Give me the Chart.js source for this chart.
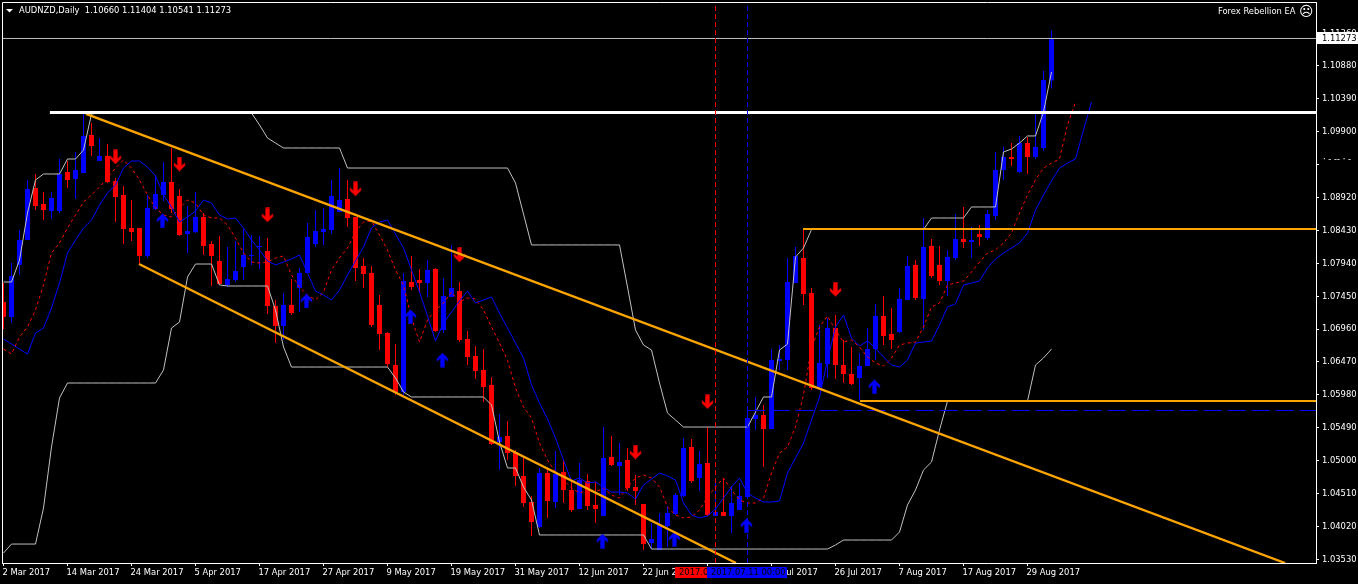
<!DOCTYPE html>
<html>
<head>
<meta charset="utf-8">
<script src="https://cdn.jsdelivr.net/npm/chart.js@4/dist/chart.umd.min.js"></script>
<style>
html, body { margin: 0; padding: 0; background: #000; overflow: hidden; }
canvas { display: block; }
</style>
</head>
<body>
<canvas id="myChart" width="1358" height="584"></canvas>
<script>
// AUDNZD daily, one entry per bar
var openPrices = [
1.07363,1.07140,1.07914,1.08286,1.09060,1.08821,1.08717,1.08717,1.09298,1.09194,
1.09283,1.09849,1.09461,1.09536,1.09164,1.08956,1.08464,1.08464,1.08048,1.08747,
1.08956,1.09149,1.08941,1.08374,1.08404,1.08628,1.08226,1.07973,1.07616,1.07690,
1.07884,1.08048,1.08182,1.08122,1.07304,1.07006,1.07319,1.07571,1.07794,1.08226,
1.08404,1.08434,1.08702,1.08896,1.08628,1.07899,1.07794,1.07319,1.06901,1.06425,
1.06023,1.07660,1.07690,1.07645,1.07854,1.06946,1.07437,1.07526,1.06812,1.06559,
1.06351,1.06128,1.05279,1.05368,1.05130,1.04773,1.04386,1.04014,1.04817,1.04386,
1.04832,1.04564,1.04282,1.04698,1.04342,1.04178,1.05056,1.04922,1.05011,1.04609,
1.04356,1.03775,1.03671,1.04029,1.04207,1.04475,1.05205,1.04743,1.04966,1.04178,
1.04237,1.04178,1.04267,1.04460,1.05621,1.05681,1.05472,1.06484,1.06499,1.07645,
1.08018,1.07496,1.06098,1.06439,1.06976,1.06425,1.06291,1.06232,1.06410,1.06663,
1.07155,1.06887,1.06916,1.07393,1.07914,1.07408,1.08197,1.07914,1.07675,1.08018,
1.08301,1.08256,1.08374,1.08315,1.08643,1.09328,1.09521,1.09298,1.09729,1.09521,
1.09655,1.10660];
var highPrices = [
1.07645,1.07943,1.08434,1.09179,1.09268,1.09000,1.09000,1.09491,1.09461,1.09595,
1.10176,1.10027,1.09804,1.09714,1.09209,1.09090,1.08881,1.08464,1.08956,1.09254,
1.09446,1.09655,1.09045,1.08792,1.09000,1.08687,1.08271,1.08345,1.08182,1.08271,
1.08449,1.08360,1.08345,1.08315,1.07393,1.07496,1.07705,1.07869,1.08538,1.08732,
1.08762,1.09179,1.09357,1.09179,1.08628,1.08018,1.07899,1.07467,1.06916,1.06737,
1.07794,1.08048,1.07854,1.07988,1.07869,1.07720,1.08212,1.07660,1.06931,1.06708,
1.06663,1.06247,1.05695,1.05591,1.05160,1.05041,1.04475,1.04892,1.04892,1.05145,
1.05011,1.04713,1.04966,1.04802,1.04683,1.05502,1.05368,1.05264,1.05190,1.04788,
1.04356,1.04073,1.04222,1.04327,1.04520,1.05338,1.05324,1.05145,1.05502,1.04713,
1.04743,1.04624,1.04669,1.05755,1.05949,1.05830,1.06663,1.06722,1.08018,1.08182,
1.08434,1.07571,1.07021,1.07125,1.07170,1.06797,1.06693,1.06604,1.06976,1.07334,
1.07452,1.07274,1.07571,1.08048,1.07988,1.08613,1.08301,1.08197,1.08137,1.08672,
1.08777,1.08479,1.08509,1.08732,1.09595,1.09670,1.09729,1.09834,1.09819,1.10161,
1.10801,1.11404];
var lowPrices = [
1.06961,1.07050,1.07765,1.08286,1.08732,1.08583,1.08598,1.08687,1.09060,1.08896,
1.09283,1.09536,1.09461,1.09134,1.08553,1.08226,1.08271,1.07928,1.08018,1.08732,
1.08866,1.08687,1.08345,1.08092,1.08389,1.08063,1.07601,1.07630,1.07586,1.07660,
1.07690,1.07914,1.07854,1.07184,1.06752,1.06797,1.07170,1.07214,1.07794,1.08182,
1.08212,1.08374,1.08702,1.08479,1.07675,1.07571,1.06991,1.06648,1.06395,1.05979,
1.05949,1.07541,1.07496,1.07437,1.06916,1.06901,1.07437,1.06767,1.06425,1.06217,
1.05874,1.05235,1.04862,1.05011,1.04624,1.04312,1.03880,1.03999,1.04148,1.04297,
1.04371,1.04237,1.04282,1.04267,1.04073,1.04178,1.04922,1.04490,1.04549,1.04342,
1.03671,1.03686,1.03671,1.03716,1.04192,1.04460,1.04669,1.04549,1.04178,1.04178,
1.04178,1.03924,1.04267,1.04460,1.05457,1.04907,1.05472,1.06351,1.06351,1.07645,
1.07319,1.06053,1.06083,1.06232,1.06217,1.06157,1.06128,1.05904,1.06410,1.06499,
1.06722,1.06663,1.06901,1.07393,1.07393,1.06946,1.07720,1.07616,1.07452,1.07988,
1.08167,1.08018,1.08197,1.08286,1.08583,1.09179,1.09387,1.09283,1.09268,1.09491,
1.09610,1.10541];
var closePrices = [
1.07140,1.07750,1.08286,1.09045,1.08792,1.08732,1.08911,1.09268,1.09179,1.09328,
1.09834,1.09685,1.09536,1.09149,1.08926,1.08449,1.08404,1.08048,1.08762,1.08970,
1.09149,1.08747,1.08360,1.08419,1.08628,1.08197,1.08048,1.07630,1.07705,1.07824,
1.08063,1.08063,1.08197,1.07304,1.07006,1.07319,1.07199,1.07794,1.08330,1.08419,
1.08449,1.08941,1.08881,1.08613,1.07869,1.07779,1.07021,1.06887,1.06439,1.06023,
1.07675,1.07586,1.07645,1.07839,1.06931,1.07452,1.07571,1.06797,1.06544,1.06336,
1.06098,1.05249,1.05353,1.05115,1.04773,1.04371,1.04088,1.04817,1.04401,1.04802,
1.04564,1.04267,1.04713,1.04327,1.04282,1.05041,1.04937,1.04981,1.04594,1.04549,
1.03760,1.03835,1.04043,1.04222,1.04490,1.05190,1.04698,1.04951,1.04192,1.04237,
1.04178,1.04371,1.04475,1.05636,1.05681,1.05472,1.06499,1.06514,1.07660,1.08048,
1.07481,1.06083,1.06454,1.06976,1.06425,1.06291,1.06143,1.06410,1.06663,1.07155,
1.06857,1.06797,1.07408,1.07899,1.07423,1.08182,1.07750,1.07675,1.08033,1.08301,
1.08256,1.08286,1.08330,1.08672,1.09328,1.09521,1.09491,1.09729,1.09521,1.09670,
1.10667,1.11273];

// channel indicator (silver)
var channelUpper = [
1.07660,1.07660,1.07988,1.08687,1.09179,1.09268,1.09268,1.09268,1.09491,1.09491,
1.09625,1.10161,1.10176,1.10176,1.10176,1.10176,1.10176,1.10176,1.10176,1.10176,
1.10176,1.10176,1.10176,1.10176,1.10176,1.10176,1.10176,1.10176,1.10176,1.10176,
1.10176,1.10176,1.09998,1.09804,1.09729,1.09655,1.09655,1.09655,1.09655,1.09655,
1.09655,1.09655,1.09655,1.09357,1.09357,1.09357,1.09357,1.09357,1.09357,1.09357,
1.09357,1.09357,1.09357,1.09357,1.09357,1.09357,1.09357,1.09357,1.09357,1.09357,
1.09357,1.09357,1.09357,1.09357,1.09134,1.08672,1.08212,1.08212,1.08212,1.08212,
1.08212,1.08212,1.08212,1.08212,1.08212,1.08212,1.08212,1.08212,1.07586,1.06946,
1.06722,1.06648,1.06157,1.05710,1.05606,1.05502,1.05502,1.05502,1.05502,1.05502,
1.05502,1.05502,1.05502,1.05502,1.05725,1.05949,1.05949,1.06648,1.06737,1.08033,
1.08167,1.08442,1.08442,1.08442,1.08442,1.08442,1.08442,1.08442,1.08442,1.08442,
1.08442,1.08442,1.08442,1.08442,1.08442,1.08442,1.08613,1.08613,1.08613,1.08613,
1.08613,1.08777,1.08777,1.08777,1.08777,1.09595,1.09640,1.09729,1.09834,1.09834,
1.10191,1.10786];
var channelLower = [
1.03627,1.03760,1.03760,1.03760,1.03760,1.04297,1.05205,1.05934,1.06157,1.06157,
1.06157,1.06157,1.06157,1.06157,1.06157,1.06157,1.06157,1.06157,1.06157,1.06157,
1.06351,1.06976,1.07065,1.07735,1.07928,1.07928,1.07928,1.07616,1.07601,1.07601,
1.07601,1.07601,1.07601,1.07601,1.07244,1.06693,1.06395,1.06395,1.06395,1.06395,
1.06395,1.06395,1.06395,1.06395,1.06395,1.06395,1.06395,1.06395,1.06395,1.06232,
1.06023,1.05949,1.05949,1.05949,1.05949,1.05949,1.05949,1.05949,1.05949,1.05949,
1.05949,1.05830,1.05279,1.04892,1.04892,1.04609,1.04416,1.03895,1.03895,1.03895,
1.03895,1.03895,1.03895,1.03895,1.03895,1.03895,1.03895,1.03895,1.03895,1.03895,
1.03895,1.03686,1.03686,1.03686,1.03686,1.03686,1.03686,1.03686,1.03686,1.03686,
1.03686,1.03686,1.03686,1.03686,1.03686,1.03686,1.03686,1.03686,1.03686,1.03686,
1.03686,1.03686,1.03686,1.03686,1.03746,1.03820,1.03820,1.03820,1.03820,1.03820,
1.03820,1.03820,1.03939,1.04342,1.04564,1.04862,1.04981,1.05457,1.05889,1.05889,
1.05889,1.05889,1.05889,1.05889,1.05889,1.05889,1.05889,1.05889,1.05889,1.06425,
1.06530,1.06663];

// slow average, runs 5 bars past the last candle
var blueAverage = [
1.06812,1.06737,1.06663,1.06588,1.06901,1.06976,1.07274,1.07645,1.08092,1.08286,
1.08464,1.08583,1.08806,1.08985,1.09105,1.09357,1.09461,1.09461,1.09372,1.09239,
1.08956,1.08777,1.08553,1.08628,1.08717,1.08881,1.08836,1.08658,1.08598,1.08613,
1.08464,1.08286,1.08137,1.07973,1.07914,1.07958,1.08003,1.08063,1.07794,1.07526,
1.07467,1.07393,1.07541,1.07765,1.07973,1.08182,1.08464,1.08553,1.08583,1.08374,
1.08167,1.07839,1.07511,1.07155,1.06782,1.07050,1.07214,1.07378,1.07526,1.07348,
1.07393,1.07437,1.07199,1.06976,1.06752,1.06529,1.06128,1.05860,1.05621,1.05338,
1.05011,1.04698,1.04743,1.04669,1.04683,1.04609,1.04534,1.04534,1.04520,1.04430,
1.04639,1.04728,1.04817,1.04773,1.04713,1.04371,1.04192,1.04148,1.04178,1.04282,
1.04445,1.04609,1.04743,1.04520,1.04445,1.04386,1.04386,1.04401,1.04817,1.05041,
1.05264,1.05606,1.05949,1.06499,1.06991,1.07170,1.06827,1.06708,1.06782,1.06678,
1.06544,1.06425,1.06395,1.06499,1.06752,1.06767,1.06782,1.07021,1.07289,1.07333,
1.07616,1.07645,1.07675,1.07869,1.08003,1.08092,1.08167,1.08241,1.08389,1.08732,
1.08956,1.09164,1.09357,1.09431,1.09491,1.09923,1.10340];
// fast average, runs 3 bars past the last candle
var redAverage = [
1.06663,1.06588,1.06842,1.06991,1.07244,1.07616,1.08092,1.08241,1.08464,1.08658,
1.08851,1.08956,1.09075,1.09209,1.09357,1.09476,1.09357,1.09179,1.08956,1.08762,
1.08658,1.08628,1.08762,1.08881,1.08836,1.08658,1.08613,1.08613,1.08509,1.08315,
1.08092,1.07958,1.07943,1.07958,1.08018,1.08048,1.07765,1.07586,1.07467,1.07393,
1.07511,1.07839,1.08018,1.08167,1.08404,1.08553,1.08568,1.08360,1.08137,1.07839,
1.07616,1.07125,1.06767,1.07095,1.07244,1.07348,1.07511,1.07363,1.07423,1.07408,
1.07244,1.06991,1.06752,1.06499,1.06083,1.05800,1.05636,1.05264,1.05011,1.04832,
1.04713,1.04594,1.04520,1.04564,1.04534,1.04594,1.04490,1.04445,1.04609,1.04743,
1.04788,1.04743,1.04609,1.04312,1.04192,1.04148,1.04163,1.04267,1.04460,1.04609,
1.04743,1.04564,1.04416,1.04371,1.04371,1.04445,1.04817,1.05115,1.05205,1.05502,
1.05979,1.06678,1.06991,1.07155,1.06946,1.06767,1.06797,1.06693,1.06544,1.06454,
1.06410,1.06529,1.06722,1.06752,1.06767,1.06991,1.07289,1.07348,1.07616,1.07645,
1.07675,1.07809,1.07958,1.08092,1.08137,1.08241,1.08389,1.08687,1.08956,1.09179,
1.09357,1.09431,1.09491,1.09998,1.10340];

// signal arrows: bar number and price
var sellBars = [14, 22, 33, 44, 57, 79, 88, 104];
var sellPrices = [1.09521, 1.09416, 1.08658, 1.09045, 1.08063, 1.05130, 1.05879, 1.07551];
var buyBars = [20, 38, 51, 55, 75, 84, 93, 109];
var buyPrices = [1.08573, 1.07378, 1.07144, 1.06499, 1.03805, 1.03835, 1.04033, 1.06102];

// drawn objects: bar number and price of the two ends
var channelTopBars = [10.3, 160.2];
var channelTopPrices = [1.10161, 1.03478];
var channelBottomBars = [16.94, 91.56];
var channelBottomPrices = [1.07928, 1.03478];
var whiteLevelBar = 5.8;
var whiteLevel = 1.10183;
var orangeHighBar = 99.94;
var orangeHigh = 1.08449;
var orangeLowBar = 107.06;
var orangeLow = 1.05889;
var dashedLevelBar = 93;
var dashedLevel = 1.05748;
var bidLevel = 1.11285;
var redMarkerBar = 89;
var blueMarkerBar = 93;

var dateBars = [0, 8, 16, 24, 32, 40, 48, 56, 64, 72, 80, 88, 96, 104, 112, 120, 128];
var dateLabels = ["2 Mar 2017", "14 Mar 2017", "24 Mar 2017", "5 Apr 2017", "17 Apr 2017", "27 Apr 2017",
  "9 May 2017", "19 May 2017", "31 May 2017", "12 Jun 2017", "22 Jun 2017", "4 Jul 2017", "14 Jul 2017",
  "26 Jul 2017", "7 Aug 2017", "17 Aug 2017", "29 Aug 2017"];
var priceTicks = [1.0353, 1.0402, 1.0451, 1.05, 1.0549, 1.0598, 1.0647, 1.0696, 1.0745, 1.0794, 1.0843, 1.0892,
  1.0941, 1.099, 1.1039, 1.1088, 1.1136];

var xMin = -0.1875, xMax = 164.0625;
var yMin = 1.03478, yMax = 1.11828;
var fontName = "'DejaVu Sans Condensed', 'DejaVu Sans', sans-serif";
var fontSize = 9.3;
var upColor = "#0000ff", downColor = "#ff0000", orange = "#ffa500", silver = "#c0c0c0";

function pairs(xs, ys) {
  return ys.map(function (y, i) { return { x: xs ? xs[i] : i, y: y }; });
}
function level(bar, price) {
  return [{ x: bar, y: price }, { x: xMax, y: price }];
}
function lineSet(data, color, width, order, dash) {
  return {
    type: "line", data: data, borderColor: color, borderWidth: width, borderDash: dash || [],
    pointRadius: 0, tension: 0, fill: false, order: order
  };
}
function barColor(ctx) {
  return closePrices[ctx.dataIndex] < openPrices[ctx.dataIndex] ? downColor : upColor;
}

// wingdings style arrows, centre is a bit left of the bar like on the terminal
function arrowImage(color, edge, up) {
  var c = document.createElement("canvas");
  c.width = 15; c.height = 15;
  var g = c.getContext("2d");
  if (!up) { g.translate(0, 15); g.scale(1, -1); }
  g.translate(up ? 1 : 2, 0);
  g.beginPath();
  g.moveTo(5.5, 0.5); g.lineTo(11, 6); g.lineTo(11, 8.5); g.lineTo(7.5, 6);
  g.lineTo(7.5, 14.5); g.lineTo(3.5, 14.5); g.lineTo(3.5, 6); g.lineTo(0, 8.5); g.lineTo(0, 6);
  g.closePath();
  g.fillStyle = color;
  g.fill();
  g.strokeStyle = edge;
  g.lineWidth = 0.6;
  g.stroke();
  return c;
}

var terminalText = {
  id: "terminalText",
  afterDraw: function (chart) {
    var g = chart.ctx, a = chart.chartArea;
    g.save();
    g.strokeStyle = "#ffffff";
    g.lineWidth = 1;
    g.beginPath();
    g.moveTo(a.left + 0.5, a.bottom); g.lineTo(a.left + 0.5, a.top + 0.5); g.lineTo(a.right, a.top + 0.5);
    g.stroke();

    g.font = fontSize + "px " + fontName;
    g.textBaseline = "middle";
    g.textAlign = "left";
    g.fillStyle = "#ffffff";
    g.beginPath();
    g.moveTo(6, 9); g.lineTo(13, 9); g.lineTo(9.5, 12.5); g.closePath(); g.fill();
    g.fillText("AUDNZD,Daily  1.10660 1.11404 1.10541 1.11273", 19, 11);
    g.fillText("Forex Rebellion EA", 1218, 12);
    g.font = "14px 'DejaVu Sans'";
    g.fillText("\u2639", 1299, 12);
    g.font = fontSize + "px " + fontName;

    // what is left of the covered 1.09410 label
    g.fillText("\u00b7 - -- \u00b7 -", 1323, 160);

    // price tag of the last close
    g.fillStyle = "#ffffff";
    g.fillRect(1317, 32, 41, 12);
    g.fillStyle = "#000000";
    g.fillText("1.11273", 1322, 38.5);

    // time tags of the two markers
    g.fillStyle = downColor;
    g.fillRect(675, 567, 80, 11);
    g.fillStyle = "#000000";
    g.fillText("2017.07.05 00:00", 679, 573);
    g.fillStyle = upColor;
    g.fillRect(707, 567, 80, 11);
    g.fillStyle = "#000000";
    g.fillText("2017.07.11 00:00", 711, 573);
    g.restore();
  }
};

new Chart("myChart", {
  data: {
    datasets: [
      { type: "bar", data: lowPrices.map(function (v, i) { return { x: i, y: [v, highPrices[i]] }; }),
        backgroundColor: barColor, barThickness: 1, grouped: false, inflateAmount: 0, order: 9 },
      { type: "bar", data: openPrices.map(function (v, i) { return { x: i, y: [v, closePrices[i]] }; }),
        backgroundColor: barColor, barThickness: 5, grouped: false, inflateAmount: 0, minBarLength: 1, order: 8 },
      lineSet(pairs(null, channelUpper), silver, 1, 7),
      lineSet(pairs(null, channelLower), silver, 1, 7),
      lineSet(pairs(null, redAverage), downColor, 1, 6, [3, 3]),
      lineSet(pairs(null, blueAverage), upColor, 1, 5),
      { type: "scatter", data: pairs(sellBars, sellPrices), pointStyle: arrowImage("#ff0000", "#c00000", false), order: 4 },
      { type: "scatter", data: pairs(buyBars, buyPrices), pointStyle: arrowImage("#0000ff", "#0000c0", true), order: 4 },
      lineSet(level(xMin, bidLevel), silver, 1, 3),
      lineSet(level(dashedLevelBar, dashedLevel), upColor, 1, 3, [18, 6]),
      lineSet(level(whiteLevelBar, whiteLevel), "#ffffff", 3, 2),
      lineSet(pairs(channelTopBars, channelTopPrices), orange, 2.4, 2),
      lineSet(pairs(channelBottomBars, channelBottomPrices), orange, 2.4, 2),
      lineSet(level(orangeHighBar, orangeHigh), orange, 2, 2),
      lineSet(level(orangeLowBar, orangeLow), orange, 2, 2),
      lineSet([{ x: redMarkerBar, y: yMin }, { x: redMarkerBar, y: yMax }], downColor, 1, 1, [5, 3]),
      lineSet([{ x: blueMarkerBar, y: yMin }, { x: blueMarkerBar, y: yMax }], upColor, 1, 1, [5, 3])
    ]
  },
  options: {
    responsive: false,
    animation: false,
    devicePixelRatio: 1,
    layout: { autoPadding: false, padding: { left: 2, top: 2, right: 0, bottom: 0 } },
    plugins: { legend: { display: false }, tooltip: { enabled: false } },
    events: [],
    scales: {
      x: {
        type: "linear", min: xMin, max: xMax, offset: false,
        border: { color: "#ffffff" },
        grid: { drawOnChartArea: false, color: "#ffffff", tickLength: 3, offset: false },
        afterBuildTicks: function (s) { s.ticks = dateBars.map(function (v) { return { value: v }; }); },
        afterFit: function (s) { s.height = 21; s.paddingLeft = 0; s.paddingRight = 0; },
        ticks: {
          color: "#ffffff", font: { family: fontName, size: fontSize }, autoSkip: false,
          maxRotation: 0, minRotation: 0, align: "start", padding: 1, labelOffset: -1,
          callback: function (v) { return dateLabels[dateBars.indexOf(v)]; }
        }
      },
      y: {
        type: "linear", position: "right", min: yMin, max: yMax,
        border: { color: "#ffffff" },
        grid: { drawOnChartArea: false, color: "#ffffff", tickLength: 3 },
        afterBuildTicks: function (s) { s.ticks = priceTicks.map(function (v) { return { value: v }; }); },
        afterFit: function (s) { s.width = 42; s.paddingTop = 0; s.paddingBottom = 0; },
        ticks: {
          color: "#ffffff", font: { family: fontName, size: fontSize }, padding: 3, autoSkip: false,
          callback: function (v) { return v === 1.0941 ? "" : v.toFixed(5); }
        }
      }
    }
  },
  plugins: [terminalText]
});
</script>
</body>
</html>
